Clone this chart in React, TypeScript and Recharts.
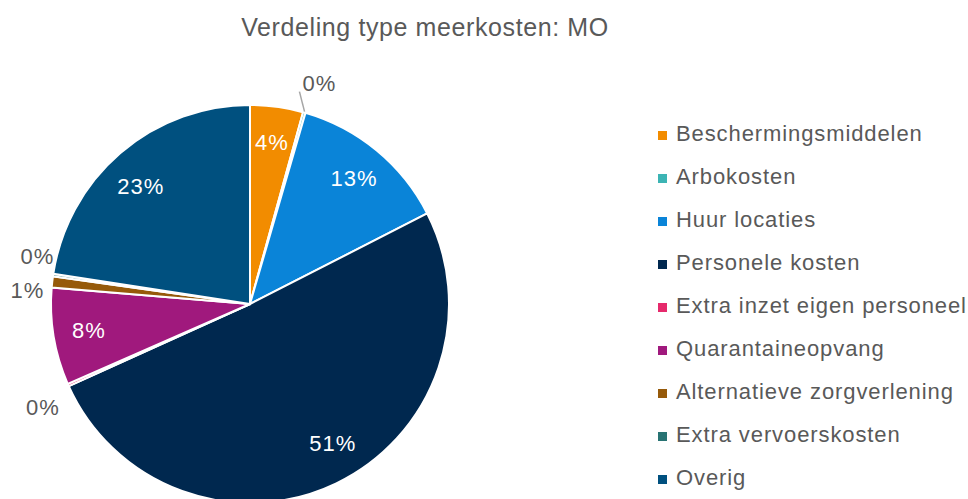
import { PieChart, Pie, Cell, Legend } from "recharts";

const categories = [
  "Beschermingsmiddelen",
  "Arbokosten",
  "Huur locaties",
  "Personele kosten",
  "Extra inzet eigen personeel",
  "Quarantaineopvang",
  "Alternatieve zorgverlening",
  "Extra vervoerskosten",
  "Overig",
];

// share of total, in percent
const shares = [4.3, 0.2, 13.0, 50.8, 0.2, 7.9, 0.9, 0.2, 22.6];

const colors = [
  "#f28c00",
  "#3cb4b4",
  "#0a84d8",
  "#00284f",
  "#e62a6c",
  "#a0197d",
  "#965a0a",
  "#287373",
  "#00507f",
];

const data = categories.map((name, i) => ({ name, value: shares[i] }));

const RADIAN = Math.PI / 180;
const GREY = "#595959";
const FONT = "'Liberation Sans', Arial, sans-serif";

// label nudges [dx, dy], mimicking Excel's best-fit placement
const labelNudge: Record<number, [number, number]> = {
  1: [7, 0],
  3: [12, -8],
  4: [2, 10],
  6: [5, 12],
  7: [14, -14],
  8: [-3, 6],
};

function renderLabel(props: any) {
  const { cx, cy, midAngle, outerRadius, percent, index } = props;
  const pct = Math.round(percent * 100);
  const cos = Math.cos(-midAngle * RADIAN);
  const sin = Math.sin(-midAngle * RADIAN);
  const [dx, dy] = labelNudge[index] || [0, 0];

  if (pct >= 2) {
    const r = outerRadius * 0.82;
    return (
      <text
        x={cx + r * cos + dx}
        y={cy + r * sin + dy}
        fill="#ffffff"
        fontSize={22}
        letterSpacing={1}
        fontFamily={FONT}
        textAnchor="middle"
        dominantBaseline="central"
      >
        {pct}%
      </text>
    );
  }

  const r = outerRadius + 30;
  const x = cx + r * cos + dx;
  const y = cy + r * sin + dy;
  return (
    <g>
      {index === 1 && (
        <line
          x1={cx + (outerRadius + 1) * cos}
          y1={cy + (outerRadius + 1) * sin}
          x2={x - 20}
          y2={y + 8}
          stroke="#a6a6a6"
          strokeWidth={1.5}
        />
      )}
      <text
        x={x}
        y={y}
        fill={GREY}
        fontSize={22}
        letterSpacing={1}
        fontFamily={FONT}
        textAnchor="middle"
        dominantBaseline="central"
      >
        {pct}%
      </text>
    </g>
  );
}

function LegendList() {
  return (
    <div style={{ fontFamily: FONT, fontSize: 22, color: GREY }}>
      {categories.map((name, i) => (
        <div
          key={name}
          style={{ display: "flex", alignItems: "center", height: 43 }}
        >
          <span
            style={{
              display: "inline-block",
              width: 9,
              height: 9,
              background: colors[i],
              marginRight: 9,
              marginTop: 3,
            }}
          />
          <span style={{ letterSpacing: 0.9, whiteSpace: "nowrap" }}>
            {name}
          </span>
        </div>
      ))}
    </div>
  );
}

export default function App() {
  return (
    <div
      style={{
        position: "absolute",
        left: 0,
        top: 0,
        width: 968,
        height: 499,
        background: "#ffffff",
        overflow: "hidden",
      }}
    >
      <PieChart
        width={968}
        height={499}
        margin={{ top: 0, right: 0, bottom: 0, left: 0 }}
      >
        <text
          x={425}
          y={27}
          textAnchor="middle"
          dominantBaseline="central"
          fill={GREY}
          fontSize={25}
          letterSpacing={0.6}
          fontFamily={FONT}
        >
          Verdeling type meerkosten: MO
        </text>
        <Pie
          data={data}
          dataKey="value"
          nameKey="name"
          cx={250}
          cy={304}
          outerRadius={199}
          startAngle={90}
          endAngle={-270}
          stroke="#ffffff"
          strokeWidth={2}
          label={renderLabel}
          labelLine={false}
          isAnimationActive={false}
        >
          {data.map((d, i) => (
            <Cell key={d.name} fill={colors[i]} />
          ))}
        </Pie>
        <Legend
          layout="vertical"
          content={<LegendList />}
          wrapperStyle={{ left: 658, top: 112, width: 310 }}
        />
      </PieChart>
    </div>
  );
}
